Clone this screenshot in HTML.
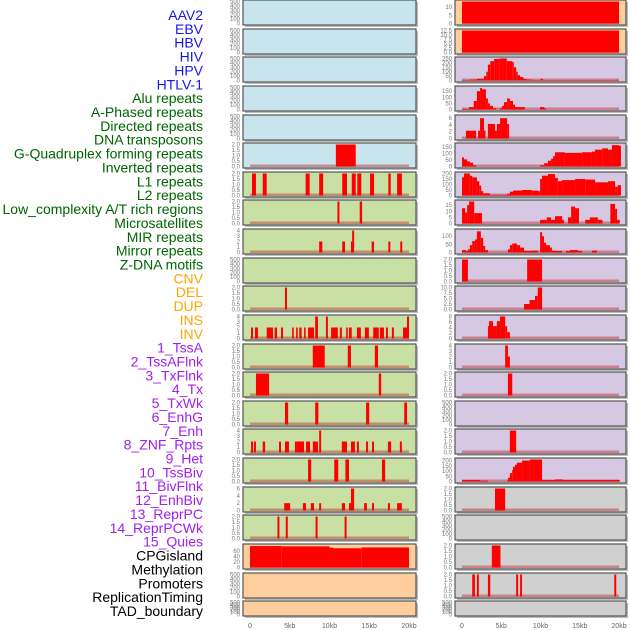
<!DOCTYPE html>
<html><head><meta charset="utf-8">
<style>
body{margin:0;background:#fff;width:630px;height:630px;overflow:hidden;font-family:"Liberation Sans",sans-serif}
svg{display:block}
</style></head>
<body>
<svg id="chart" width="630" height="630" viewBox="0 0 630 630" xmlns="http://www.w3.org/2000/svg"></svg>
<script>
const trackNames = ["AAV2","EBV","HBV","HIV","HPV","HTLV-1","Alu repeats","A-Phased repeats","Directed repeats","DNA transposons","G-Quadruplex forming repeats","Inverted repeats","L1 repeats","L2 repeats","Low_complexity A/T rich regions","Microsatellites","MIR repeats","Mirror repeats","Z-DNA motifs","CNV","DEL","DUP","INS","INV","1_TssA","2_TssAFlnk","3_TxFlnk","4_Tx","5_TxWk","6_EnhG","7_Enh","8_ZNF_Rpts","9_Het","10_TssBiv","11_BivFlnk","12_EnhBiv","13_ReprPC","14_ReprPCWk","15_Quies","CPGisland","Methylation","Promoters","ReplicationTiming","TAD_boundary"];
const trackGroups = ["v","v","v","v","v","v","r","r","r","r","r","r","r","r","r","r","r","r","r","s","s","s","s","s","c","c","c","c","c","c","c","c","c","c","c","c","c","c","c","o","o","o","o","o"];
const trackMax = [500,500,500,500,500,2,2,2,4,500,2,4,2,2,2,4,2,6,2,80,500,500,13.5,12.5,250,180,6.5,170,200,18,135,2,10,8,4,2,500,2,210,2,500,2,2,500];
const ticks500 = ["0","100","200","300","400","500"];
const ticks2 = ["0.0","0.5","1.0","1.5","2.0"];
const ticks4 = ["0","1","2","3","4"];
const ticks6 = ["0","2","4","6"];
const ticks8 = ["0","2","4","6","8"];
const ticks10 = ["0.0","2.5","5.0","7.5","10.0","12.5"];
const trackTicks = [ticks500,ticks500,ticks500,ticks500,ticks500,ticks2,ticks2,ticks2,ticks4,ticks500,ticks2,ticks4,ticks2,ticks2,ticks2,ticks4,ticks2,ticks6,ticks2,["0","20","40","60"],ticks500,ticks500,["0","5","10"],ticks10,["0","50","100","150","200","250"],["0","50","100","150"],ticks6,["0","50","100","150"],["0","50","100","150","200"],["0","5","10","15"],["0","50","100"],ticks2,["0.0","2.5","5.0","7.5","10.0"],ticks8,ticks4,ticks2,ticks500,ticks2,["0","50","100","150","200"],ticks2,ticks500,ticks2,ticks2,ticks500];
const xTicks = [0,5,10,15,20];
const xTickLabels = ["0","5kb","10kb","15kb","20kb"];
// segments: [startKb, endKb, value]
const trackSegs = [
[],[],[],[],[],
[[10.8,13.3,2]],
[[0.25,0.75,2],[1.6,2.1,2],[7.0,7.5,2],[8.7,9.2,2],[11.6,12.2,2],[12.8,13.3,2],[13.5,14.0,2],[15.1,15.6,2],[17.4,17.7,2],[18.5,19.1,2]],
[[11.0,11.25,2],[13.8,14.1,2]],
[[8.7,9.1,2],[11.6,11.95,2],[12.7,13.0,2],[12.85,13.1,4],[15.3,15.6,2],[17.4,17.65,2],[18.9,19.15,2]],
[],
[[4.4,4.65,2]],
[[0.13,0.38,2],[0.63,1.0,2],[2.1,2.9,2],[3.1,3.4,2],[3.9,4.15,2],[5.3,5.5,2],[5.8,6.0,2],[6.2,6.5,2],[6.8,7.0,2],[7.3,8.05,2],[8.2,8.55,4],[9.55,9.8,4],[10.2,11.05,2],[11.3,11.55,2],[12.1,12.3,2],[12.45,12.8,2],[13.45,13.95,2],[14.45,14.95,2],[15.5,16.2,2],[16.35,16.85,2],[17.1,17.35,2],[17.85,18.1,2],[19.25,19.75,2],[19.75,20.0,4]],
[[7.9,9.4,2],[12.3,12.7,2],[15.7,16.1,2]],
[[0.75,2.4,2],[16.2,16.5,2]],
[[4.4,4.8,2],[8.2,8.6,2],[14.6,15.0,2],[19.4,19.75,2]],
[[0.13,0.38,2],[0.5,0.75,2],[1.6,1.9,2],[3.65,3.9,2],[4.4,4.9,2],[5.65,5.9,2],[5.9,6.8,2],[7.05,7.55,2],[7.9,8.55,2],[8.7,8.95,4],[11.55,12.2,2],[12.7,13.2,2],[13.45,13.7,2],[14.6,14.85,2],[15.35,15.6,2],[17.35,17.75,2],[18.85,19.1,2]],
[[7.3,7.7,2],[10.6,11.1,2],[12.0,12.45,2],[16.6,17.0,2]],
[[4.3,5.05,2],[6.65,7.05,2],[7.65,8.05,2],[8.7,8.95,2],[11.55,11.95,2],[12.45,12.95,2],[12.7,13.1,6],[14.35,14.7,2],[15.35,15.6,2],[17.35,17.6,2],[18.5,19.1,2]],
[[3.45,3.7,2],[4.5,4.75,2],[8.25,8.5,2],[11.9,12.15,2]],
[[0,4,78],[4,10,77],[10,10.5,72],[10.5,14,70],[14,20,73]],
[],[],
[[0,20,13.5]],
[[0,20,12.5]],
[[0,1,5],[1,1.9,10],[1.9,2.8,20],[2.8,3.1,50],[3.1,3.3,100],[3.3,3.6,180],[3.6,4.1,220],[4.1,4.8,245],[4.8,5.7,250],[5.7,6.4,220],[6.4,6.6,210],[6.6,6.9,150],[6.9,7.1,100],[7.1,7.4,60],[7.4,7.8,40],[7.8,8.2,20],[8.2,8.9,10],[8.9,10,5],[10,10.3,20],[10.3,20,5]],
[[0,0.9,5],[0.9,1.5,20],[1.5,1.9,70],[1.9,2.3,150],[2.3,2.55,175],[2.55,3.05,165],[3.05,3.3,90],[3.3,3.55,50],[3.55,3.95,30],[3.95,4.35,10],[4.85,5.1,10],[5.1,5.35,30],[5.35,5.75,60],[5.75,6.1,90],[6.1,6.5,70],[6.5,6.75,40],[6.75,8.0,20],[9.95,10.45,20],[10.45,10.7,10]],
[[0.5,1.8,2.3],[2.05,2.3,2.3],[2.3,2.8,6],[2.8,2.95,2.3],[3.3,4.2,4.3],[4.2,4.45,2.3],[4.45,4.85,4.3],[4.85,5.75,6],[5.75,6.0,4.3]],
[[0,0.25,70],[0.25,0.65,55],[0.65,1.0,40],[1.0,1.4,30],[1.4,1.8,10],[9.95,10.45,10],[10.45,10.95,25],[10.95,11.35,45],[11.35,11.6,60],[11.6,11.85,80],[11.85,13.1,110],[13.1,15.3,105],[15.3,16.55,110],[16.55,16.95,115],[16.95,17.85,130],[17.85,18.6,140],[18.6,19.1,130],[19.1,20.0,165],[20.0,20.25,160]],
[[0,0.25,165],[0.25,1.0,200],[1.0,1.3,180],[1.3,1.9,165],[1.9,2.2,130],[2.2,2.45,90],[2.45,2.7,40],[2.7,3.55,20],[3.55,5.75,5],[5.75,6.1,15],[6.1,6.5,35],[6.5,7.65,45],[7.65,8.9,50],[8.9,9.7,45],[9.7,9.95,40],[9.95,10.2,150],[10.2,10.95,180],[10.95,11.85,195],[11.85,12.2,160],[12.2,12.75,130],[12.75,14.4,140],[14.4,15.7,150],[15.7,16.95,145],[16.95,18.6,120],[18.6,19.5,130],[19.5,19.85,80],[19.85,20.25,95]],
[[0,0.4,12.5],[0.4,0.65,9],[0.65,0.9,15],[0.9,1.55,18],[1.55,2.55,8.5],[9.95,10.8,3],[10.8,11.35,5],[11.35,11.85,3],[11.85,12.75,6],[12.75,13.0,3],[13.5,13.9,5],[13.9,14.4,13.8],[14.4,14.9,12.5],[15.7,16.3,3],[16.3,17.3,5],[17.3,17.9,3],[18.9,19.5,16],[19.5,19.75,12],[19.75,20.1,3]],
[[0,0.5,15],[0.5,0.75,10],[0.75,1.0,20],[1.0,1.3,45],[1.3,1.65,70],[1.65,1.9,80],[1.9,2.4,130],[2.4,2.7,90],[2.7,2.95,40],[2.95,3.3,15],[5.85,6.1,20],[6.1,6.4,45],[6.4,7.0,55],[7.0,7.4,45],[7.4,7.9,30],[7.9,8.9,10],[8.9,9.7,12],[9.95,10.2,125],[10.2,10.45,100],[10.45,10.7,60],[10.7,11.2,45],[11.2,11.45,30],[11.45,12.75,10],[13.25,13.75,10],[13.75,14.75,15],[14.75,15.3,10],[16.55,17.2,12]],
[[0,0.75,2],[8.3,10.2,2]],
[[7.9,8.6,2.5],[8.6,9.3,4.3],[9.3,9.65,6.2],[9.65,10.2,10]],
[[3.3,3.45,4.5],[3.45,3.95,6.3],[3.95,4.45,4.5],[4.45,4.85,6.3],[4.85,5.5,8],[5.5,5.75,4.5],[5.75,6.1,2.3]],
[[5.5,5.85,4],[5.85,6.1,2]],
[[5.85,6.4,2]],
[],
[[6.1,6.9,2]],
[[0,2.3,15],[2.3,3.3,8],[5.75,5.85,10],[5.85,6.1,35],[6.1,6.4,80],[6.4,6.5,110],[6.5,6.75,140],[6.75,7.0,160],[7.0,7.65,180],[7.65,8.65,200],[8.65,10.2,210],[10.2,11.85,15],[11.85,12.85,20],[12.85,20.1,15]],
[[4.2,5.5,2]],
[],
[[3.8,4.9,2]],
[[1.3,1.65,2],[1.9,2.15,2],[3.3,3.6,2],[6.9,7.15,2],[7.4,7.65,2],[19.4,19.65,2]],
[]
];

const NS = "http://www.w3.org/2000/svg";
const svg = document.getElementById("chart");
const labelColors = {v:"#1515ee", r:"#006400", s:"#ffa500", c:"#a020f0", o:"#000000"};
const bgColors = {v:"#c8e4ec", r:"#c8e0a3", s:"#fecf9d", c:"#d6c7e2", o:"#d0d0d0"};
function mk(tag, attrs, parent){ const e=document.createElementNS(NS,tag); for(const k in attrs) e.setAttribute(k,attrs[k]); (parent||svg).appendChild(e); return e; }
const cols = [{x0:243,x1:416,zero:250,per:7.95,tickX:240},{x0:455,x1:626,zero:462,per:7.85,tickX:452}];
function xScale(col, kb){ return col.zero + kb*col.per; }

trackNames.forEach((n,i)=>{
  const t = mk("text",{x:203,y:15+i*13.86+5,"text-anchor":"end","font-size":"14",fill:labelColors[trackGroups[i]],"font-family":"Liberation Sans, sans-serif"});
  
  
  t.textContent = n;
});

trackNames.forEach((n,i)=>{
  const col = cols[i<22?0:1];
  const r = i%22;
  const top = Math.round(r*28.63);
  const h = r===21?15:25;
  const g = mk("g",{});
  
  
  mk("rect",{x:col.x0+2,y:top+2,width:col.x1-col.x0,height:h,fill:"#bbb"},g);
  mk("rect",{x:col.x0,y:top,width:col.x1-col.x0,height:h,fill:bgColors[trackGroups[i]]},g);
  const y0 = top+h-1.5, yT = top+1.5;
  const ymax = trackMax[i];
  const yS = v => y0 - Math.min(v,ymax)/ymax*(y0-yT);
  const segs = trackSegs[i];
  if(segs.length){
    const bl = mk("rect",{x:xScale(col,0),y:y0-2,width:xScale(col,20)-xScale(col,0),height:2.5,fill:"rgba(190,40,40,0.45)"},g);
    
    
  }
  segs.forEach(s=>{
    const x=xScale(col,s[0]), w=Math.max(xScale(col,s[1])-x,1.5), y=yS(s[2]);
    const b = mk("rect",{x:x,y:y,width:w,height:y0-y,fill:"#ff0000"},g);
    
    
  });
  mk("rect",{x:col.x0,y:top,width:col.x1-col.x0,height:h,fill:"none",stroke:"#555","stroke-width":1.2},g);
  const tk = trackTicks[i];
  tk.forEach((lab,k)=>{
    const v = parseFloat(lab);
    const yy = (ymax===500||ymax===2) ? y0 - k/(tk.length-1)*(y0-yT) : yS(v);
    const t = mk("text",{x:col.tickX,y:yy+2,"text-anchor":"end","font-size":"6",fill:"#777"},g);
    
    
    t.textContent = lab;
  });
});

cols.forEach((col)=>{
  xTicks.forEach((v,k)=>{
    const t = mk("text",{x:xScale(col,v),y:628,"text-anchor":"middle","font-size":"7",fill:"#666"});
    
    
    t.textContent = xTickLabels[k];
  });
});
</script>
</body></html>
